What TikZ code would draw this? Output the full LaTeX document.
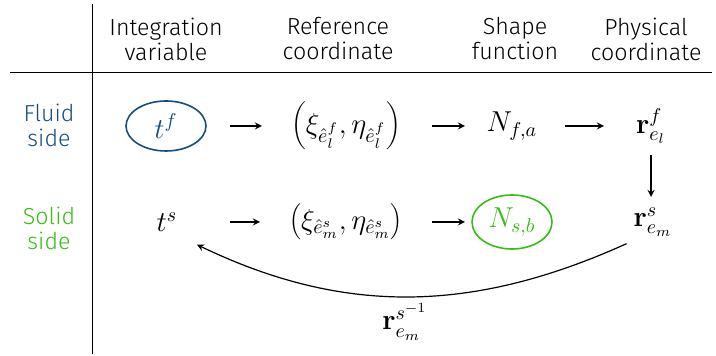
\documentclass[tikz,border=0pt]{standalone}
\usepackage[no-math]{fontspec}
\setmainfont{Fira Sans}[UprightFont=* Light]
\usepackage{tikz}
\usetikzlibrary{positioning, shapes.geometric, arrows}
\definecolor{fluidblau}{RGB}{23,77,125}
\definecolor{solidgruen}{RGB}{55,190,20}
\tikzstyle{bellipse} = [ellipse, draw=fluidblau, thick, text=fluidblau, minimum width=40pt, minimum height=25pt, inner sep=0pt]
\tikzstyle{gellipse} = [ellipse, draw=solidgruen, thick, text=solidgruen, minimum width=40pt, minimum height=27pt, inner sep=0pt]
\tikzstyle{kopf} = [align=center, font=\fontsize{11.6}{12.5}\selectfont]
\tikzstyle{formel} = [font=\Large]
\tikzstyle{arrow} = [->,>=stealth, semithick]

\begin{document}
\begin{tikzpicture}[x=0.5pt, y=-0.5pt]
    	\useasboundingbox (0,0) rectangle (716,356);
    	
    	\draw (92,4) -- (92,354);
    	\draw (10,72) -- (712,72);
    	
    	\node[kopf] (h1) at (166,39) {Integration\\variable};
    	\node[kopf] (h2) at (338,39) {Reference\\coordinate};
    	\node[kopf] (h3) at (515,39) {Shape\\function};
    	\node[kopf] (h4) at (646,39) {Physical\\coordinate};
    	
    	\node[kopf, text=fluidblau] (fluid) at (49,125) {Fluid\\side};
    	\node[kopf, text=solidgruen] (solid) at (49,228) {Solid\\side};
    	
    	\node[bellipse, formel] (tf) at (166,126) {$t^f$};
    	\node[formel] (xif) at (346,126) {$\left(\xi_{\hat{e}_l^f},\eta_{\hat{e}_l^f}\right)$};
    	\node[formel] (Nfa) at (512,126) {$N_{f,a}$};
    	\node[formel] (rf) at (651,126) {$\mathbf{r}^f_{e_l}$};
    	
    	\node[formel] (ts) at (167,222) {$t^s$};
    	\node[formel] (xis) at (346,222) {$\left(\xi_{\hat{e}_m^s},\eta_{\hat{e}_m^s}\right)$};
    	\node[gellipse, formel] (Nsb) at (512,222) {$N_{s,b}$};
    	\node[formel] (rs) at (653,222) {$\mathbf{r}^s_{e_m}$};
    	
    	\draw[arrow, shorten <=32pt, shorten >=42pt] (tf.center) -- (xif.center);
    	\draw[arrow, shorten <=43pt, shorten >=23.5pt] (xif.center) -- (Nfa.center);
    	\draw[arrow, shorten <=26.5pt, shorten >=23.5pt] (Nfa.center) -- (rf.center);
    	
    	\draw[arrow, shorten <=31.5pt, shorten >=43pt] (ts.center) -- (xis.center);
    	\draw[arrow, shorten <=43pt, shorten >=23.5pt] (xis.center) -- (Nsb.center);
    	
    	\draw[arrow, shorten <=14.5pt, shorten >=12.5pt] (rf.center) -- (rf.center |- rs.center);
    	
    	\draw[arrow, shorten >=7pt] (rs.south west) to[bend left=25] node[below=0pt, formel] (inv) {$\mathbf{r}^{s^{-1}}_{e_m}$} (ts.south east);
    	
    \end{tikzpicture}
\end{document}
